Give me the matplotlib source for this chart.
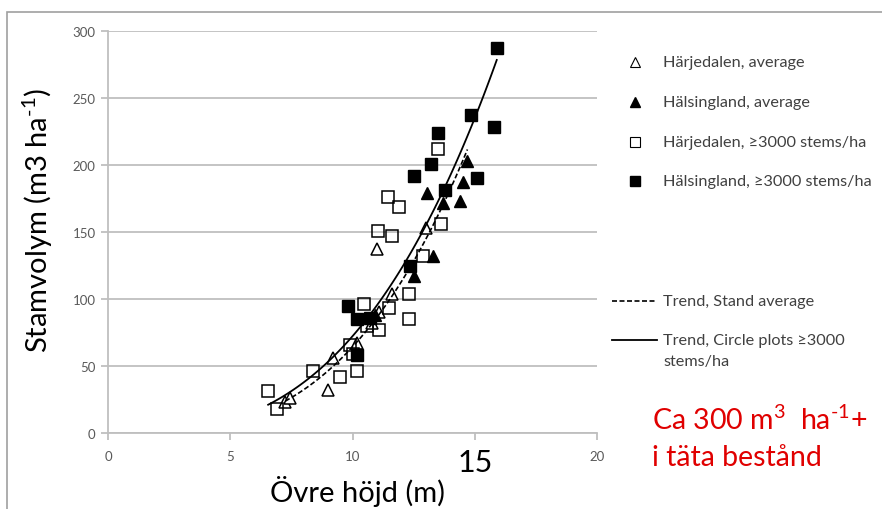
import numpy as np
import matplotlib
matplotlib.use('Agg')
import matplotlib.pyplot as plt
from matplotlib.lines import Line2D
from matplotlib.patches import Rectangle

plt.rcParams['font.family'] = ['Lato', 'DejaVu Sans']
plt.rcParams['mathtext.fontset'] = 'custom'
plt.rcParams['mathtext.rm'] = 'Lato'
plt.rcParams['mathtext.it'] = 'Lato'

# ── Data ────────────────────────────────────────────────────────────────────
har_avg_x = [7.25, 7.45, 9.0, 9.2, 10.2, 10.8, 11.1, 11.0, 11.6, 13.0]
har_avg_y = [23, 26, 32, 56, 67, 82, 90, 137, 104, 153]

hal_avg_x = [10.9, 12.5, 13.3, 13.05, 13.7, 14.4, 14.5, 14.7]
hal_avg_y = [88, 117, 132, 179, 172, 173, 187, 203]

har_sq_x = [6.55, 6.9, 8.4, 9.5, 9.9, 10.0, 10.2, 10.45, 10.6, 11.1, 11.5,
            12.3, 12.3, 12.9, 13.6, 11.05, 11.6, 11.45, 11.9, 13.5]
har_sq_y = [31, 18, 46, 42, 66, 59, 46, 96, 80, 77, 93,
            104, 85, 132, 156, 151, 147, 176, 169, 212]

hal_sq_x = [9.8, 10.2, 10.7, 10.2, 12.35, 12.5, 13.2, 13.5, 13.8, 14.85, 15.1, 15.8, 15.9]
hal_sq_y = [95, 85, 86, 58, 125, 192, 201, 224, 181, 237, 190, 228, 287]

x_ticks = [0, 5, 10, 15, 20]
y_ticks = [0, 50, 100, 150, 200, 250, 300]

labels = ['Härjedalen, average', 'Hälsingland, average',
          'Härjedalen, ≥3000 stems/ha', 'Hälsingland, ≥3000 stems/ha']


def power_trend(xs, ys):
    # Excel-style power trendline: log-log least squares
    b, a = np.polyfit(np.log(xs), np.log(ys), 1)
    xx = np.linspace(min(xs), max(xs), 100)
    return xx, np.exp(a) * xx ** b


# ── Figure ──────────────────────────────────────────────────────────────────
fig = plt.figure(figsize=(8.82, 5.10), dpi=100)
ax = fig.add_axes([108 / 882, 1 - 434 / 510, (597 - 108) / 882, (434 - 32) / 510])

grey = '#bfbfbf'
ax.set_xlim(0, 20)
ax.set_ylim(0, 300)
ax.set_yticks(y_ticks)
ax.set_xticks(x_ticks)
ax.set_xticklabels([str(t) if t != 15 else '' for t in x_ticks])
ax.grid(axis='y', color=grey, linewidth=1.3)
ax.set_axisbelow(True)
for s in ['top', 'right']:
    ax.spines[s].set_visible(False)
for s in ['left', 'bottom']:
    ax.spines[s].set_color(grey)
    ax.spines[s].set_linewidth(1.3)
ax.tick_params(colors=grey, labelcolor='#595959', labelsize=9.5, length=5, width=1.3)
ax.tick_params(axis='x', pad=7)
ax.tick_params(axis='y', pad=4)

ms = 8.8
ax.plot(har_avg_x, har_avg_y, '^', ms=ms, mfc='white', mec='black', mew=1.1, zorder=3)
ax.plot(hal_avg_x, hal_avg_y, '^', ms=ms, mfc='black', mec='black', zorder=3)
ax.plot(har_sq_x, har_sq_y, 's', ms=ms, mfc='none', mec='black', mew=1.1, zorder=3)
ax.plot(hal_sq_x, hal_sq_y, 's', ms=ms, mfc='black', mec='black', zorder=3)

tx, ty = power_trend(har_avg_x + hal_avg_x, har_avg_y + hal_avg_y)
ax.plot(tx, ty, color='black', linestyle=(0, (3, 1.5)), linewidth=1.2, zorder=4)
tx, ty = power_trend(har_sq_x + hal_sq_x, har_sq_y + hal_sq_y)
ax.plot(tx, ty, color='black', linewidth=1.3, zorder=4)

# big "15" replacing the tick label
ax.text(15, -22, '15', ha='center', va='center', fontsize=22, color='black')

# axis titles
fig.text(38 / 882, 1 - 220 / 510, r'Stamvolym (m3 ha$^{\text{-}1}$)', rotation=90,
         ha='center', va='center', fontsize=21)
fig.text(358 / 882, 1 - 492 / 510, 'Övre höjd (m)', ha='center', va='center', fontsize=21)

# ── Legend (drawn by hand) ─────────────────────────────────────────────────
leg_fs = 11.7
marker_style = [dict(marker='^', mfc='white', mec='black', mew=0.8),
                dict(marker='^', mfc='black', mec='black'),
                dict(marker='s', mfc='white', mec='black', mew=0.8),
                dict(marker='s', mfc='black', mec='black')]
rows = [63, 103, 143, 182]
for lab, st, y in zip(labels, marker_style, rows):
    fy = 1 - y / 510
    fig.add_artist(Line2D([635 / 882], [fy], ms=7, linestyle='none', **st))
    fig.text(663 / 882, fy, lab, ha='left', va='center', fontsize=leg_fs, color='#404040')

fy = 1 - 302 / 510
fig.add_artist(Line2D([612 / 882, 657 / 882], [fy, fy], color='black',
                      linestyle=(0, (3, 1.5)), linewidth=1.2))
fig.text(663 / 882, fy, 'Trend, Stand average', ha='left', va='center',
         fontsize=leg_fs, color='#404040')
fy = 1 - 341 / 510
fig.add_artist(Line2D([612 / 882, 657 / 882], [fy, fy], color='black', linewidth=1.3))
fig.text(663 / 882, fy, 'Trend, Circle plots ≥3000', ha='left', va='center',
         fontsize=leg_fs, color='#404040')
fig.text(663 / 882, 1 - 362 / 510, 'stems/ha', ha='left', va='center',
         fontsize=leg_fs, color='#404040')

# red annotation
fig.text(652 / 882, 1 - 420 / 510, r'Ca 300 m$^3$  ha$^{\text{-}1}$+', ha='left', va='center',
         fontsize=20.5, color='#e00000')
fig.text(652 / 882, 1 - 458 / 510, 'i täta bestånd', ha='left', va='center',
         fontsize=20.5, color='#e00000')

# outer frame
fig.add_artist(Rectangle((7 / 882, -0.05), 1.2, 1.05 - 13 / 510, transform=fig.transFigure,
                         fill=False, edgecolor='#a0a0a0', linewidth=1.2))

fig.savefig('out.png', dpi=100)
